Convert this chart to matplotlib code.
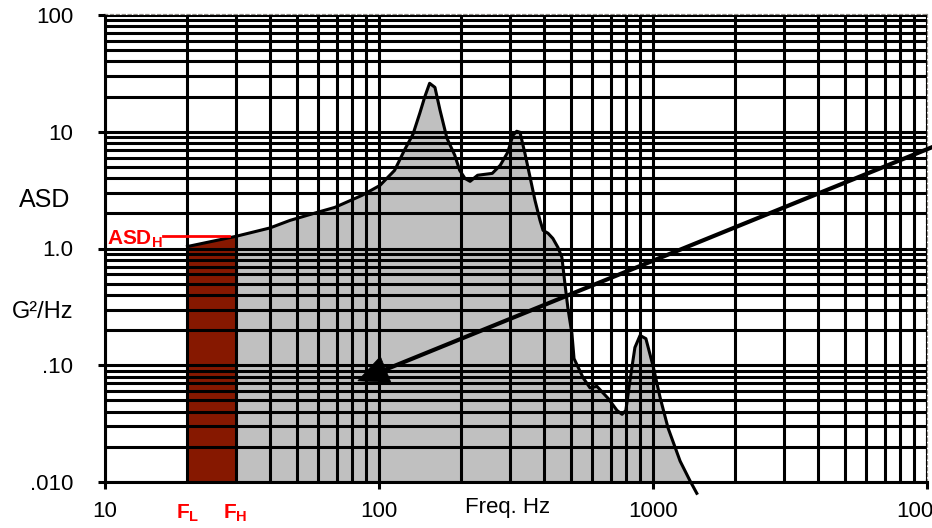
import matplotlib
matplotlib.use("Agg")
import matplotlib.pyplot as plt
from matplotlib.patches import Polygon
import numpy as np

plt.rcParams['font.family'] = ['Liberation Sans', 'DejaVu Sans']

# PSD curve, read point by point (Hz, G^2/Hz)
freq = [20, 30, 40, 47.3, 60, 69, 86.6, 100.8, 114, 124, 133, 141, 147, 153,
        160, 167, 177, 189, 197, 206, 215, 229, 259, 277, 295, 308, 318, 327,
        341, 356, 371, 387, 397, 414, 431, 450, 465, 477, 489, 506, 515, 556,
        589, 624, 686, 739, 771, 796, 824, 859, 897, 942, 1000, 1062, 1135,
        1256, 1366, 1445]
asd = [1.04, 1.27, 1.5, 1.74, 2.05, 2.25, 2.85, 3.47, 4.67, 7.0, 9.5, 14.5,
       20.0, 26.0, 24.0, 15.3, 8.8, 6.3, 4.67, 3.98, 3.76, 4.24, 4.4, 5.16,
       6.67, 9.3, 10.1, 9.9, 6.5, 4.07, 2.58, 1.74, 1.43, 1.35, 1.22, 1.02,
       0.84, 0.50, 0.31, 0.186, 0.114, 0.078, 0.064, 0.066, 0.052, 0.041,
       0.038, 0.041, 0.074, 0.142, 0.18, 0.169, 0.099, 0.0527, 0.029, 0.0151,
       0.0102, 0.008]

f_low, f_high = 20, 30
asd_h = 1.29

# arrow ends (Hz, G^2/Hz): tip and tail
arrow_tip = (83.7, 0.0736)
arrow_tail = (10430, 7.37)

x_ticks = [10, 100, 1000, 10000]
x_labels = ['10', '100', '1000', '10000']
y_ticks = [0.01, 0.1, 1, 10, 100]
y_labels = ['.010', '.10', '1.0', '10', '100']

freq = np.array(freq)
asd = np.array(asd)

W, H = 932, 528
fig = plt.figure(figsize=(W / 100, H / 100), dpi=100)
ax = fig.add_axes([105 / W, 1 - 482 / H, (927 - 105) / W, (482 - 15) / H])
ax.set_xscale('log')
ax.set_yscale('log')
ax.set_xlim(10, 10000)
ax.set_ylim(0.01, 100)

# gray area under the curve, brown band between F_L and F_H
ax.fill_between(freq, asd, 0.001, color='#c0c0c0', lw=0, zorder=1)
band = (freq >= f_low) & (freq <= f_high)
ax.fill_between(freq[band], asd[band], 0.001, color='#861800', lw=0, zorder=1.5)

ax.grid(True, which='both', color='black', lw=2.2)
ax.set_axisbelow(False)
ax.plot(freq, asd, color='black', lw=2.2, zorder=4, clip_on=False)

ax.set_xticks(x_ticks)
ax.set_xticklabels(x_labels)
ax.set_yticks(y_ticks)
ax.set_yticklabels(y_labels)
ax.tick_params(which='major', length=5, width=2.2, labelsize=16)
ax.tick_params(axis='y', pad=18)
ax.tick_params(axis='x', pad=9)
ax.tick_params(which='minor', length=0)
ax.yaxis.set_minor_formatter(plt.NullFormatter())
ax.xaxis.set_minor_formatter(plt.NullFormatter())

for s in ['left', 'bottom']:
    ax.spines[s].set_linewidth(2.2)
for s in ['top', 'right']:
    ax.spines[s].set_color('#8f8a84')
    ax.spines[s].set_linestyle(':')
    ax.spines[s].set_linewidth(1.6)

# ASD_H marker
ax.plot([16.3, 28.4], [asd_h, asd_h], color='red', lw=2, zorder=5)
ax.text(16.2, 1.08, r'ASD$_{\mathregular{H}}$', color='red', fontsize=15,
        fontweight='bold', ha='right', va='baseline', zorder=5)

xt = ax.get_xaxis_transform()
ax.text(f_low, -0.078, r'F$_{\mathregular{L}}$', color='red', fontsize=15,
        fontweight='bold', ha='center', va='baseline', transform=xt, clip_on=False)
ax.text(f_high, -0.078, r'F$_{\mathregular{H}}$', color='red', fontsize=15,
        fontweight='bold', ha='center', va='baseline', transform=xt, clip_on=False)

# arrow built in pixel space so the head stays a clean triangle on log axes
tip = ax.transData.transform(arrow_tip)
tail = ax.transData.transform(arrow_tail)
u = (tail - tip) / np.hypot(*(tail - tip))
n = np.array([-u[1], u[0]])
base = tip + u * 30
head = Polygon([tip, base + n * 14, base - n * 14], closed=True,
               facecolor='black', edgecolor='black', lw=0.5,
               transform=None, zorder=6, clip_on=False)
fig.add_artist(head)
ax.plot([base[0], tail[0]], [base[1], tail[1]], color='black', lw=3,
        transform=None, zorder=6, clip_on=False)

fig.text(45 / W, 1 - 200 / H, 'ASD', fontsize=18, ha='center', va='center')
fig.text(43 / W, 1 - 312 / H, 'G²/Hz', fontsize=17, ha='center', va='center')
fig.text(508 / W, 1 - 508 / H, 'Freq. Hz', fontsize=16, ha='center', va='center')

fig.savefig('out.png', dpi=100)
